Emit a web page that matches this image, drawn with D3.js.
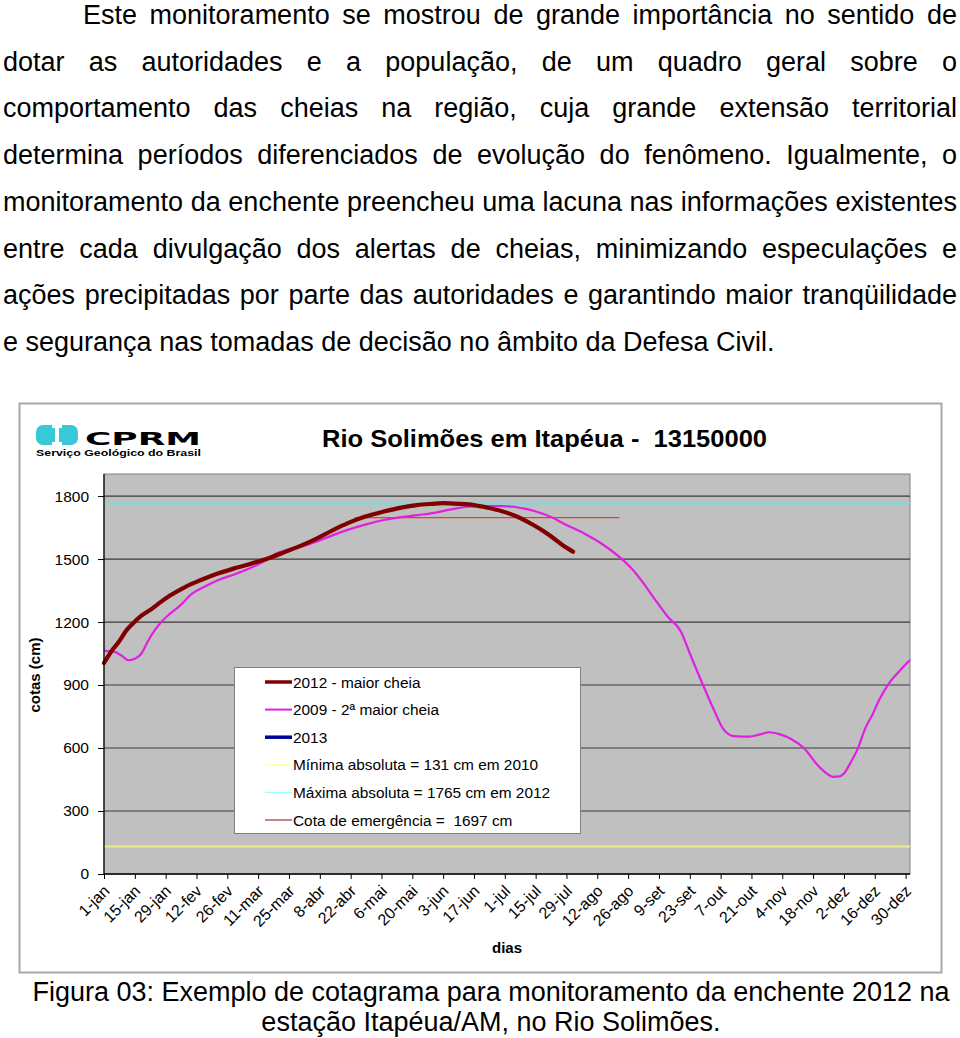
<!DOCTYPE html>
<html><head><meta charset="utf-8">
<script src="https://cdn.jsdelivr.net/npm/d3@7"></script>
<style>
html,body{margin:0;padding:0;background:#fff;}
svg{display:block;font-family:"Liberation Sans",Arial,sans-serif;}
.pre{white-space:pre;}
</style></head>
<body>
<svg id="chart" width="960" height="1038"></svg>
<script>
// ---------- data ----------
const paragraphLines = [
  "Este monitoramento se mostrou de grande importância no sentido de",
  "dotar as autoridades e a população, de um quadro geral sobre o",
  "comportamento das cheias na região, cuja grande extensão territorial",
  "determina períodos diferenciados de evolução do fenômeno. Igualmente, o",
  "monitoramento da enchente preencheu uma lacuna nas informações existentes",
  "entre cada divulgação dos alertas de cheias, minimizando especulações e",
  "ações precipitadas por parte das autoridades e garantindo maior tranqüilidade",
  "e segurança nas tomadas de decisão no âmbito da Defesa Civil."
];
const captionLines = [
  "Figura 03: Exemplo de cotagrama para monitoramento da enchente 2012 na",
  "estação Itapéua/AM, no Rio Solimões."
];
const chartTitle = "Rio Solimões em Itapéua -  13150000";
const xTickDays = [0,14,28,42,56,70,84,98,112,126,140,154,168,182,196,210,224,238,252,266,280,294,308,322,336,350,364];
const xTickLabels = ["1-jan","15-jan","29-jan","12-fev","26-fev","11-mar","25-mar","8-abr","22-abr","6-mai","20-mai","3-jun","17-jun","1-jul","15-jul","29-jul","12-ago","26-ago","9-set","23-set","7-out","21-out","4-nov","18-nov","2-dez","16-dez","30-dez"];
const yTicks = [0,300,600,900,1200,1500,1800];

const days2012 = [0,3,7,10,13,17,22,26,30,37,44,52,60,67,75,82,90,97,104,111,118,127,135,142,149,154,161,168,174,180,188,195,200,204,208,213];
const cota2012 = [1005,1055,1110,1158,1192,1230,1265,1297,1326,1368,1400,1432,1458,1479,1505,1533,1566,1600,1638,1672,1700,1726,1745,1757,1763,1766,1763,1757,1745,1730,1700,1662,1630,1600,1568,1535];

const days2009 = [0,4,8,11,14,17,20,23,26,30,34,40,46,52,60,67,73,78,84,90,97,104,111,119,127,135,143,150,157,165,172,180,186,191,195,203,210,218,225,234,240,245,250,256,262,266,272,277,281,286,293,298,302,307,312,318,324,328,331,334,336,339,342,346,349,352,357,362,366];
const cota2009 = [1063,1060,1040,1018,1025,1050,1110,1160,1200,1240,1273,1335,1370,1400,1430,1460,1490,1525,1545,1560,1585,1614,1640,1665,1686,1700,1710,1720,1735,1749,1752,1752,1749,1740,1730,1700,1662,1622,1580,1510,1450,1384,1310,1225,1154,1051,900,781,694,657,654,665,675,665,643,598,519,480,463,465,479,530,590,701,760,829,916,975,1019];

const days2013 = [];
const cota2013 = [];

const minAbs = 131, maxAbs = 1765, emergency = 1697;
const emergencyDays = [114, 234];

const legendLabels = ["2012 - maior cheia","2009 - 2ª maior cheia","2013","Mínima absoluta = 131 cm em 2010","Máxima absoluta = 1765 cm em 2012","Cota de emergência =  1697 cm"];
const legendColors = ["#800000","#e020e0","#000099","#ffff99","#99ffff","#993333"];
const legendWidths = [3.5,2,3.5,1.2,1.2,1.2];

// ---------- drawing ----------
const svg = d3.select("#chart");

// paragraph (justified)
function justifiedLine(text, x0, x1, y, size, justify){
  const g = svg.append("g");
  const words = text.split(" ");
  const nodes = words.map(w => g.append("text").attr("y", y).attr("font-size", size).attr("fill","#000").text(w));
  const widths = nodes.map(n => n.node().getComputedTextLength());
  const t = g.append("text").attr("font-size", size).attr("class","pre").text("a a");
  const t2 = g.append("text").attr("font-size", size).text("aa");
  const spaceW = t.node().getComputedTextLength() - t2.node().getComputedTextLength();
  t.remove(); t2.remove();
  const total = d3.sum(widths);
  const gap = justify ? (x1 - x0 - total) / (words.length - 1) : spaceW;
  let x = x0;
  nodes.forEach((n,i) => { n.attr("x", x); x += widths[i] + gap; });
}
paragraphLines.forEach((l,i) => {
  justifiedLine(l, i===0 ? 83 : 3, 957, 24 + i*46.7, 27, i < paragraphLines.length-1);
});

// caption
svg.append("text").attr("x", 491).attr("y", 1001).attr("text-anchor","middle").attr("font-size",27).text(captionLines[0]);
svg.append("text").attr("x", 491).attr("y", 1031).attr("text-anchor","middle").attr("font-size",27).text(captionLines[1]);

// chart frame
svg.append("rect").attr("x",19.5).attr("y",403.5).attr("width",922).attr("height",569)
  .attr("fill","#fff").attr("stroke","#a8a8a8").attr("stroke-width",2);

// logo
const logo = svg.append("g");
logo.append("rect").attr("x",36).attr("y",425).attr("width",42).attr("height",20).attr("rx",7).attr("fill","#38c8d8");
logo.append("path").attr("d","M52,425 H62 V428 H59 V442 H62 V445 H52 V442 H55 V428 H52 Z").attr("fill","#fff");
logo.append("text").attr("x",85).attr("y",445).attr("font-size",17).attr("font-weight",900)
  .attr("textLength",116).attr("lengthAdjust","spacingAndGlyphs").attr("font-family","'DejaVu Sans',sans-serif").text("CPRM");
logo.append("text").attr("x",36).attr("y",456).attr("font-size",8.5).attr("font-weight","bold")
  .attr("textLength",165).attr("lengthAdjust","spacingAndGlyphs").text("Serviço Geológico do Brasil");

// title
svg.append("text").attr("class","pre").attr("x",322).attr("y",447).attr("font-size",24).attr("font-weight","bold")
  .attr("textLength",445).attr("lengthAdjust","spacingAndGlyphs").text(chartTitle);

// scales
const x = d3.scaleLinear().domain([0,366]).range([104,910]);
const y = d3.scaleLinear().domain([0,1905]).range([874,474]);

// plot bg
svg.append("rect").attr("x",x(0)).attr("y",y(1905)).attr("width",x(366)-x(0)).attr("height",y(0)-y(1905))
  .attr("fill","#c0c0c0").attr("stroke","#808080").attr("stroke-width",1);

// gridlines
svg.append("g").selectAll("line").data(yTicks.filter(d=>d>0)).join("line")
  .attr("x1",x(0)).attr("x2",x(366)).attr("y1",d=>y(d)).attr("y2",d=>y(d))
  .attr("stroke","#3a3a3a").attr("stroke-width",1.2);

// reference lines
svg.append("line").attr("x1",x(0)).attr("x2",x(366)).attr("y1",y(minAbs)).attr("y2",y(minAbs))
  .attr("stroke","#eded8a").attr("stroke-width",2);
svg.append("line").attr("x1",x(0)).attr("x2",x(366)).attr("y1",y(maxAbs)).attr("y2",y(maxAbs))
  .attr("stroke","#70dede").attr("stroke-width",2);
svg.append("line").attr("x1",x(emergencyDays[0])).attr("x2",x(emergencyDays[1])).attr("y1",y(emergency)).attr("y2",y(emergency))
  .attr("stroke","#ee3a2a").attr("stroke-width",1.2);

// series
const line = d3.line().x(d=>x(d[0])).y(d=>y(d[1])).curve(d3.curveMonotoneX);
svg.append("path").datum(d3.zip(days2009,cota2009)).attr("d",line)
  .attr("fill","none").attr("stroke","#e020e0").attr("stroke-width",2.2);
svg.append("path").datum(d3.zip(days2012,cota2012)).attr("d",line)
  .attr("fill","none").attr("stroke","#800000").attr("stroke-width",4.2).attr("stroke-linecap","round");
if (days2013.length) svg.append("path").datum(d3.zip(days2013,cota2013)).attr("d",line)
  .attr("fill","none").attr("stroke","#000099").attr("stroke-width",4);

// axes
const yAxis = d3.axisLeft(y).tickValues(yTicks).tickSize(6).tickPadding(9).tickFormat(d3.format("d"));
const gy = svg.append("g").attr("transform",`translate(${x(0)},0)`).call(yAxis);
gy.select(".domain").attr("stroke","#000").attr("stroke-width",1.2).attr("d",`M0,${y(0)}V${y(1905)}`);
gy.selectAll("text").attr("font-size",15.5).attr("font-family","'Liberation Sans',Arial,sans-serif").attr("fill","#000");

const xAxis = d3.axisBottom(x).tickValues(xTickDays).tickSize(5).tickFormat((d,i)=>xTickLabels[i]);
const gx = svg.append("g").attr("transform",`translate(0,${y(0)})`).call(xAxis);
gx.select(".domain").attr("stroke","#000").attr("stroke-width",1.5).attr("d",`M${x(0)},0H${x(366)}`);
gx.selectAll("text").attr("font-size",16).attr("font-family","'Liberation Sans',Arial,sans-serif").attr("fill","#000")
  .attr("text-anchor","end").attr("dy",null).attr("y",null)
  .attr("transform","translate(6,18) rotate(-45)");

// axis titles
svg.append("text").attr("transform","translate(40,675) rotate(-90)").attr("text-anchor","middle")
  .attr("font-size",15).attr("font-weight","bold").text("cotas (cm)");
svg.append("text").attr("x",507).attr("y",953).attr("text-anchor","middle")
  .attr("font-size",15).attr("font-weight","bold").text("dias");

// legend
const lg = svg.append("g");
lg.append("rect").attr("x",234.5).attr("y",667.5).attr("width",346).attr("height",166)
  .attr("fill","#fff").attr("stroke","#808080").attr("stroke-width",1);
legendLabels.forEach((lab,i) => {
  const cy = 682 + i*27.6;
  lg.append("line").attr("x1",265).attr("x2",292).attr("y1",cy).attr("y2",cy)
    .attr("stroke",legendColors[i]).attr("stroke-width",legendWidths[i]);
  lg.append("text").attr("class","pre").attr("x",293).attr("y",cy+5.5).attr("font-size",15.4).text(lab);
});
</script>
</body></html>
